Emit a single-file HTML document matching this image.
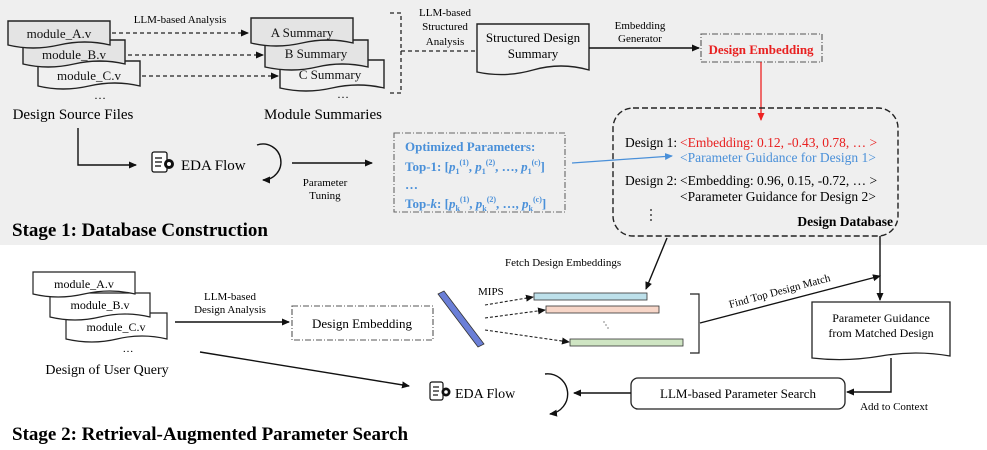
<!DOCTYPE html>
<html><head><meta charset="utf-8"><style>
body{margin:0;background:#fff}
svg{display:block;font-family:"Liberation Serif",serif}
</style></head><body>
<svg width="987" height="450" viewBox="0 0 987 450" xmlns="http://www.w3.org/2000/svg">
<defs>
<marker id="ah" markerWidth="8" markerHeight="8" refX="7" refY="4" orient="auto" markerUnits="userSpaceOnUse"><path d="M0,0.5 L8,4 L0,7.5 z" fill="#111"/></marker>
<marker id="ahr" markerWidth="8" markerHeight="8" refX="7" refY="4" orient="auto" markerUnits="userSpaceOnUse"><path d="M0,0.5 L8,4 L0,7.5 z" fill="#e22"/></marker>
<marker id="ahb" markerWidth="8" markerHeight="8" refX="7" refY="4" orient="auto" markerUnits="userSpaceOnUse"><path d="M0,0.5 L8,4 L0,7.5 z" fill="#4a90d9"/></marker>
</defs>
<rect x="0" y="0" width="987" height="245" fill="#efefef"/>

<g stroke="#222" stroke-width="1.4">
<path d="M38,61 h102 v25 q-25,-6 -51,0 t-51,0 z" fill="#f0f0f0"/>
<path d="M23,40 h102 v24 q-25,-6 -51,0 t-51,0 z" fill="#e4e4e4"/>
<path d="M8,21 h102 v24 q-25,-6 -51,0 t-51,0 z" fill="#e4e4e4"/>
</g>
<g font-size="13" fill="#111" text-anchor="middle">
<text x="59" y="38">module_A.v</text>
<text x="74" y="59">module_B.v</text>
<text x="89" y="80">module_C.v</text>
</g>
<text x="100" y="99" font-size="12" text-anchor="middle">…</text>
<text x="73" y="119" font-size="15" text-anchor="middle">Design Source Files</text>

<g stroke="#222" stroke-width="1.2" stroke-dasharray="4,3" marker-end="url(#ah)">
<line x1="112" y1="33" x2="248" y2="33"/>
<line x1="128" y1="55" x2="263" y2="55"/>
<line x1="142" y1="76" x2="278" y2="76"/>
</g>
<text x="180" y="23" font-size="11" text-anchor="middle">LLM-based Analysis</text>

<g stroke="#222" stroke-width="1.4">
<path d="M280,60 h104 v28 q-26,-6 -52,0 t-52,0 z" fill="#f0f0f0"/>
<path d="M265,40 h103 v27 q-26,-6 -51,0 t-52,0 z" fill="#e4e4e4"/>
<path d="M251,18 h102 v25 q-25,-6 -51,0 t-51,0 z" fill="#e4e4e4"/>
</g>
<g font-size="13" fill="#111" text-anchor="middle">
<text x="302" y="37">A Summary</text>
<text x="316" y="58">B Summary</text>
<text x="330" y="79">C Summary</text>
</g>
<text x="343" y="98" font-size="12" text-anchor="middle">…</text>
<text x="323" y="119" font-size="15" text-anchor="middle">Module Summaries</text>

<path d="M390,13 h11 v80 h-11" fill="none" stroke="#222" stroke-width="1.3" stroke-dasharray="4,3"/>
<line x1="401" y1="51" x2="493" y2="51" stroke="#222" stroke-width="1.3" stroke-dasharray="4,3" marker-end="url(#ah)"/>
<g font-size="11" text-anchor="middle">
<text x="445" y="16">LLM-based</text>
<text x="445" y="30">Structured</text>
<text x="445" y="45">Analysis</text>
</g>

<path d="M477,24 h112 v46 q-28,-8 -56,0 t-56,2 z" fill="#f0f0f0" stroke="#222" stroke-width="1.4"/>
<text x="533" y="42" font-size="13" text-anchor="middle">Structured Design</text>
<text x="533" y="58" font-size="13" text-anchor="middle">Summary</text>

<line x1="589" y1="48" x2="699" y2="48" stroke="#111" stroke-width="1.4" marker-end="url(#ah)"/>
<text x="640" y="29" font-size="11" text-anchor="middle">Embedding</text>
<text x="640" y="42" font-size="11" text-anchor="middle">Generator</text>

<rect x="701" y="34" width="121" height="28" fill="none" stroke="#555" stroke-width="1.1" stroke-dasharray="6,2,1,2"/>
<text x="761" y="54" font-size="13" font-weight="bold" fill="#e82020" text-anchor="middle">Design Embedding</text>
<line x1="761" y1="62" x2="761" y2="120" stroke="#e22" stroke-width="1.3" marker-end="url(#ahr)"/>

<rect x="613" y="108" width="285" height="128" rx="20" fill="none" stroke="#222" stroke-width="1.4" stroke-dasharray="6,3"/>
<g font-size="13.5">
<text x="625" y="147">Design 1:</text>
<text x="680" y="147" fill="#e82020">&lt;Embedding: 0.12, -0.43, 0.78, … &gt;</text>
<text x="680" y="162" fill="#4a90d9">&lt;Parameter Guidance for Design 1&gt;</text>
<text x="625" y="185">Design 2:</text>
<text x="680" y="185">&lt;Embedding: 0.96, 0.15, -0.72, … &gt;</text>
<text x="680" y="201">&lt;Parameter Guidance for Design 2&gt;</text>
</g>
<g fill="#111"><circle cx="651" cy="210" r="0.9"/><circle cx="651" cy="215" r="0.9"/><circle cx="651" cy="220" r="0.9"/></g>
<text x="893" y="226" font-size="13.5" font-weight="bold" text-anchor="end">Design Database</text>

<rect x="394" y="133" width="171" height="79" fill="none" stroke="#666" stroke-width="1.1" stroke-dasharray="6,2,1,2"/>
<g font-size="13" font-weight="bold" fill="#4a90d9">
<text x="405" y="151">Optimized Parameters:</text>
<text x="405" y="171">Top-1: [<tspan font-style="italic">p</tspan><tspan font-size="8" dy="3">1</tspan><tspan font-size="8" dy="-9">(1)</tspan><tspan dy="6">, </tspan><tspan font-style="italic">p</tspan><tspan font-size="8" dy="3">1</tspan><tspan font-size="8" dy="-9">(2)</tspan><tspan dy="6">, …, </tspan><tspan font-style="italic">p</tspan><tspan font-size="8" dy="3">1</tspan><tspan font-size="8" dy="-9">(c)</tspan><tspan dy="6">]</tspan></text>
<text x="405" y="189">…</text>
<text x="405" y="208">Top-<tspan font-style="italic">k</tspan>: [<tspan font-style="italic">p</tspan><tspan font-size="8" dy="3">k</tspan><tspan font-size="8" dy="-9">(1)</tspan><tspan dy="6">, </tspan><tspan font-style="italic">p</tspan><tspan font-size="8" dy="3">k</tspan><tspan font-size="8" dy="-9">(2)</tspan><tspan dy="6">, …, </tspan><tspan font-style="italic">p</tspan><tspan font-size="8" dy="3">k</tspan><tspan font-size="8" dy="-9">(c)</tspan><tspan dy="6">]</tspan></text>
</g>
<line x1="572" y1="163" x2="672" y2="156" stroke="#4a90d9" stroke-width="1.2" marker-end="url(#ahb)"/>

<polyline points="78,128 78,165 136,165" fill="none" stroke="#111" stroke-width="1.4" marker-end="url(#ah)"/>
<g stroke="#111" stroke-width="1.3" fill="#fff">
<rect x="152" y="152" width="15" height="20" rx="2"/>
<line x1="155" y1="158" x2="162" y2="158"/><line x1="155" y1="162" x2="162" y2="162"/><line x1="155" y1="166" x2="161" y2="166"/>
</g>
<circle cx="169" cy="164" r="5" fill="#111"/><circle cx="169" cy="164" r="2" fill="#fff"/>
<text x="181" y="170" font-size="15">EDA Flow</text>
<path d="M257,145 A18,18 0 1 1 263,180" fill="none" stroke="#111" stroke-width="1.4" marker-end="url(#ah)"/>
<line x1="292" y1="163" x2="372" y2="163" stroke="#111" stroke-width="1.4" marker-end="url(#ah)"/>
<text x="325" y="186" font-size="11" text-anchor="middle">Parameter</text>
<text x="325" y="199" font-size="11" text-anchor="middle">Tuning</text>

<text x="12" y="236" font-size="19" font-weight="bold">Stage 1: Database Construction</text>

<g stroke="#222" stroke-width="1.2" fill="#fff">
<path d="M66,313 h101 v26 q-25,-6 -50,0 t-51,0 z"/>
<path d="M50,293 h100 v24 q-25,-6 -50,0 t-50,0 z"/>
<path d="M33,272 h102 v22 q-25,-6 -51,0 t-51,0 z"/>
</g>
<g font-size="12" text-anchor="middle">
<text x="84" y="288">module_A.v</text>
<text x="100" y="309">module_B.v</text>
<text x="116" y="331">module_C.v</text>
</g>
<text x="128" y="352" font-size="11" text-anchor="middle">…</text>
<text x="107" y="374" font-size="14" text-anchor="middle">Design of User Query</text>

<line x1="175" y1="322" x2="289" y2="322" stroke="#111" stroke-width="1.4" marker-end="url(#ah)"/>
<text x="230" y="300" font-size="11" text-anchor="middle">LLM-based</text>
<text x="230" y="313" font-size="11" text-anchor="middle">Design Analysis</text>
<rect x="292" y="306" width="141" height="34" fill="none" stroke="#555" stroke-width="1.1" stroke-dasharray="6,2,1,2"/>
<text x="362" y="328" font-size="13" text-anchor="middle">Design Embedding</text>

<polygon points="438,294 444,291 484,344 478,347" fill="#6b7fd7" stroke="#333" stroke-width="0.8"/>
<text x="478" y="295" font-size="11">MIPS</text>
<g stroke="#222" stroke-width="1.1" stroke-dasharray="3,2" marker-end="url(#ah)">
<line x1="485" y1="305" x2="533" y2="297"/>
<line x1="485" y1="318" x2="545" y2="310"/>
<line x1="485" y1="330" x2="569" y2="342"/>
</g>
<rect x="534" y="293" width="113" height="7" fill="#bde0ea" stroke="#333" stroke-width="0.8"/>
<rect x="546" y="306" width="113" height="7" fill="#f7d6c8" stroke="#333" stroke-width="0.8"/>
<rect x="570" y="339" width="113" height="7" fill="#cfe5c3" stroke="#333" stroke-width="0.8"/>
<g fill="#333"><circle cx="604" cy="322" r="0.6"/><circle cx="606" cy="325" r="0.6"/><circle cx="608" cy="328" r="0.6"/></g>
<path d="M690,294 h9 v59 h-9" fill="none" stroke="#222" stroke-width="1.2"/>

<text x="505" y="266" font-size="11">Fetch Design Embeddings</text>
<line x1="667" y1="238" x2="646" y2="289" stroke="#111" stroke-width="1.4" marker-end="url(#ah)"/>

<text x="730" y="308" font-size="11" transform="rotate(-15 730 308)">Find Top Design Match</text>
<line x1="700" y1="323" x2="880" y2="276" stroke="#111" stroke-width="1.4" marker-end="url(#ah)"/>
<line x1="880" y1="236" x2="880" y2="300" stroke="#111" stroke-width="1.4" marker-end="url(#ah)"/>

<path d="M812,302 h138 v54 q-34,-6 -69,0 t-69,2 z" fill="#fff" stroke="#222" stroke-width="1.3"/>
<text x="881" y="322" font-size="12" text-anchor="middle">Parameter Guidance</text>
<text x="881" y="337" font-size="12" text-anchor="middle">from Matched Design</text>

<polyline points="891,358 891,392 847,392" fill="none" stroke="#111" stroke-width="1.4" marker-end="url(#ah)"/>
<text x="894" y="410" font-size="11" text-anchor="middle">Add to Context</text>

<rect x="631" y="378" width="214" height="31" rx="7" fill="#fff" stroke="#222" stroke-width="1.3"/>
<text x="738" y="398" font-size="13" text-anchor="middle">LLM-based Parameter Search</text>
<line x1="631" y1="393" x2="574" y2="393" stroke="#111" stroke-width="1.4" marker-end="url(#ah)"/>

<line x1="200" y1="352" x2="409" y2="386" stroke="#111" stroke-width="1.4" marker-end="url(#ah)"/>
<g stroke="#111" stroke-width="1.2" fill="#fff">
<rect x="430" y="382" width="13" height="18" rx="2"/>
<line x1="433" y1="387" x2="439" y2="387"/><line x1="433" y1="391" x2="439" y2="391"/><line x1="433" y1="395" x2="438" y2="395"/>
</g>
<circle cx="446" cy="392" r="4.5" fill="#111"/><circle cx="446" cy="392" r="1.8" fill="#fff"/>
<text x="455" y="398" font-size="14">EDA Flow</text>
<path d="M545,374 A18,18 0 1 1 550,414" fill="none" stroke="#111" stroke-width="1.4" marker-end="url(#ah)"/>

<text x="12" y="440" font-size="19" font-weight="bold">Stage 2: Retrieval-Augmented Parameter Search</text>
</svg>
</body></html>
